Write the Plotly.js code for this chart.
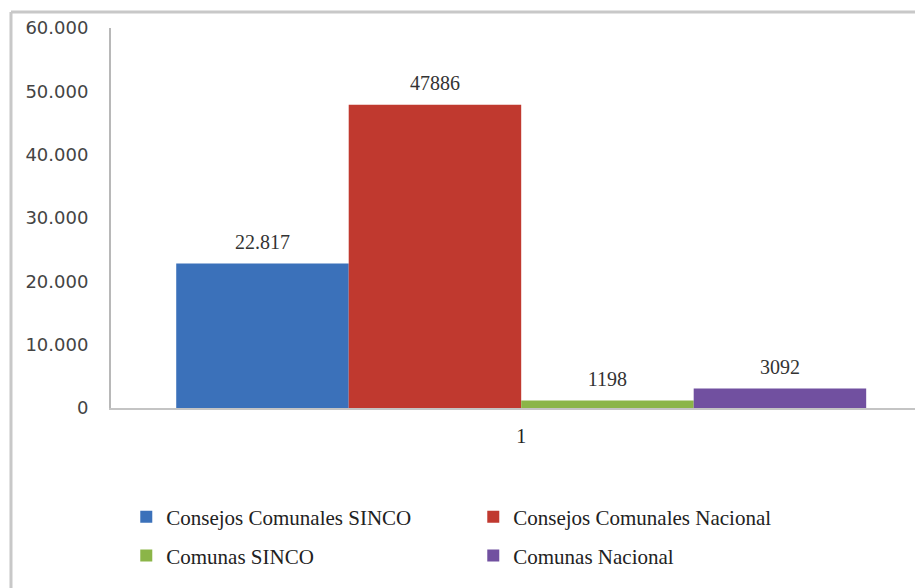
<!DOCTYPE html>
<html>
<head>
<meta charset="utf-8">
<script src="https://cdn.plot.ly/plotly-3.0.1.min.js"></script>
<style>
html,body{margin:0;padding:0;background:#fff;}
#chart{width:915px;height:588px;}
</style>
</head>
<body>
<div id="chart"></div>
<script>
const categories = ["1"];
const seriesNames = ["Consejos Comunales SINCO", "Consejos Comunales Nacional", "Comunas SINCO", "Comunas Nacional"];
const seriesValues = [[22817], [47886], [1198], [3092]];
const seriesLabels = [["22.817"], ["47886"], ["1198"], ["3092"]];
const seriesColors = ["#3b71ba", "#c0392f", "#8bb548", "#7150a0"];
const legendIds = ["legend", "legend", "legend2", "legend2"];
const yTickVals = [0, 10000, 20000, 30000, 40000, 50000, 60000];

const serif = "'Liberation Serif', 'Times New Roman', serif";

const barTraces = seriesNames.map((name, i) => ({
  type: "bar",
  name: name,
  x: categories,
  y: seriesValues[i],
  marker: {color: seriesColors[i], line: {width: 0}},
  legend: legendIds[i],
  hoverinfo: "none"
}));

const labelTraces = seriesNames.map((name, i) => ({
  type: "scatter",
  mode: "text+markers",
  name: name + " label",
  x: categories,
  y: seriesValues[i],
  text: seriesLabels[i],
  textposition: "top center",
  textfont: {family: serif, size: 20, color: "#333"},
  marker: {size: 14, opacity: 0, color: "#fff"},
  cliponaxis: false,
  showlegend: false,
  hoverinfo: "none"
}));

const layout = {
  width: 915, height: 588,
  margin: {l: 111, r: 0, t: 28, b: 180, pad: 0},
  paper_bgcolor: "#fff", plot_bgcolor: "#fff",
  separators: ",.",
  barmode: "group",
  scattermode: "group",
  bargap: 0.159,
  scattergap: 0.159,
  bargroupgap: 0,
  showlegend: true,
  xaxis: {
    type: "category",
    range: [-0.5, 0.48],
    showline: true, linecolor: "#c4c4c4", linewidth: 2,
    ticks: "", showgrid: false, zeroline: false,
    tickfont: {family: serif, size: 20, color: "#222"},
    ticklabelstandoff: 9
  },
  yaxis: {
    range: [0, 60000],
    tickvals: yTickVals,
    tickformat: ",.0f",
    showline: true, linecolor: "#b8b8b8", linewidth: 2,
    ticks: "", showgrid: false, zeroline: false,
    tickfont: {family: "'DejaVu Sans', sans-serif", size: 18, color: "#444"},
    ticklabelstandoff: 17
  },
  legend: {
    orientation: "h", x: 0.019, y: -0.287, xanchor: "left", yanchor: "middle",
    entrywidth: 302, entrywidthmode: "pixels",
    font: {family: serif, size: 21, color: "#222"},
    itemwidth: 30, traceorder: "normal",
    bgcolor: "rgba(0,0,0,0)"
  },
  legend2: {
    orientation: "h", x: 0.019, y: -0.389, xanchor: "left", yanchor: "middle",
    entrywidth: 302, entrywidthmode: "pixels",
    font: {family: serif, size: 21, color: "#222"},
    itemwidth: 30, traceorder: "normal",
    bgcolor: "rgba(0,0,0,0)"
  },
  shapes: [
    {type: "line", xref: "paper", yref: "paper", x0: -0.1244, x1: 1.01, y0: 1.042, y1: 1.042, line: {color: "#c8c8c8", width: 3}},
    {type: "line", xref: "paper", yref: "paper", x0: -0.1244, x1: -0.1244, y0: 1.042, y1: -0.5, line: {color: "#c8c8c8", width: 3}}
  ]
};

Plotly.newPlot("chart", barTraces.concat(labelTraces), layout, {displayModeBar: false, staticPlot: true});
</script>
</body>
</html>
